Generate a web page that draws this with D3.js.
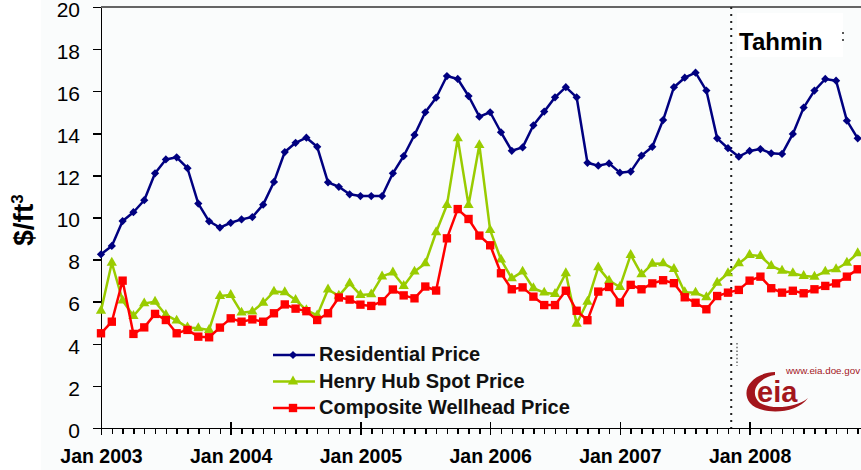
<!DOCTYPE html>
<html>
<head>
<meta charset="utf-8">
<script src="https://cdn.jsdelivr.net/npm/d3@7"></script>
<style>
  html, body { margin: 0; padding: 0; background: #fff; }
  svg { display: block; font-family: "Liberation Sans", Arial, sans-serif; }
  .axis path, .axis line { stroke: #000; stroke-width: 1.5; shape-rendering: crispEdges; }
  .axis text { fill: #000; }
</style>
</head>
<body>
<svg id="chart" width="861" height="470"></svg>
<script>
// ----------------------------
// DATA (monthly, Jan 2003 = index 0)
// ----------------------------
const residential = [
  8.25, 8.65, 9.83, 10.25, 10.82, 12.1, 12.76, 12.86, 12.34, 10.66, 9.82, 9.52,
  9.75, 9.91, 10.02, 10.61, 11.69, 13.11, 13.55, 13.79, 13.36, 11.67, 11.46, 11.1,
  11.02, 11.02, 11.02, 12.1, 12.92, 13.92, 15.0, 15.69, 16.72, 16.58, 15.77, 14.79,
  15.0, 14.05, 13.17, 13.33, 14.38, 15.03, 15.71, 16.19, 15.71, 12.6, 12.46, 12.57,
  12.13, 12.18, 12.94, 13.36, 14.63, 16.19, 16.64, 16.88, 16.03, 13.76, 13.29, 12.89,
  13.16, 13.25, 13.05, 13.02, 13.97, 15.22, 16.03, 16.58, 16.5, 14.6, 13.76
];
const henryHub = [
  5.57, 7.85, 6.05, 5.32, 5.92, 6.0, 5.37, 5.1, 4.78, 4.74, 4.66, 6.27,
  6.32, 5.48, 5.53, 5.95, 6.48, 6.45, 6.08, 5.6, 5.35, 6.58, 6.28, 6.87,
  6.32, 6.35, 7.2, 7.39, 6.75, 7.43, 7.82, 9.3, 10.59, 13.76, 10.59, 13.44,
  9.4, 8.0, 7.11, 7.43, 6.64, 6.43, 6.37, 7.35, 4.95, 6.0, 7.63, 7.0,
  6.7, 8.22, 7.3, 7.8, 7.82, 7.55, 6.45, 6.43, 6.21, 6.9, 7.35, 7.82,
  8.22, 8.17, 7.7, 7.47, 7.35, 7.22, 7.19, 7.43, 7.54, 7.85, 8.3
];
const wellhead = [
  4.5, 5.05, 7.0, 4.47, 4.78, 5.42, 5.13, 4.5, 4.66, 4.34, 4.31, 4.77,
  5.21, 5.05, 5.16, 5.05, 5.45, 5.87, 5.67, 5.55, 5.13, 5.45, 6.2, 6.1,
  5.86, 5.8, 6.02, 6.58, 6.3, 6.16, 6.72, 6.53, 9.01, 10.4, 9.93, 9.14,
  8.68, 7.35, 6.59, 6.68, 6.24, 5.84, 5.84, 6.52, 5.57, 5.12, 6.48, 6.7,
  5.96, 6.8, 6.59, 6.87, 7.02, 6.88, 6.21, 5.95, 5.64, 6.27, 6.43, 6.56,
  7.0, 7.19, 6.64, 6.43, 6.52, 6.4, 6.59, 6.75, 6.87, 7.19, 7.54
];

const seriesNames = ["Residential Price", "Henry Hub Spot Price", "Composite Wellhead Price"];
const yearLabels = ["Jan 2003", "Jan 2004", "Jan 2005", "Jan 2006", "Jan 2007", "Jan 2008"];
const yTicks = [0, 2, 4, 6, 8, 10, 12, 14, 16, 18, 20];
const forecastStart = 58.3;   // month index where the forecast ("Tahmin") begins
const forecastLabel = "Tahmin";
const monthCount = 72;        // Jan 2003 .. Dec 2008

const svg = d3.select("#chart");
const W = 861, H = 470;
const plot = { left: 101, top: 7, bottom: 428, monthPx: 10.81 };

// ----------------------------
// SCALES
// ----------------------------
const x = d3.scaleLinear()
  .domain([0, monthCount])
  .range([plot.left, plot.left + monthCount * plot.monthPx]);

const y = d3.scaleLinear()
  .domain([0, 20])
  .range([plot.bottom, plot.top]);

// faint picture tint behind the chart
svg.append("rect")
  .attr("x", 41).attr("y", 0)
  .attr("width", W - 41).attr("height", H)
  .attr("fill", "#fafcfc");

// top frame line
svg.append("line")
  .attr("x1", x(0)).attr("x2", W)
  .attr("y1", y(20)).attr("y2", y(20))
  .attr("stroke", "#333").attr("stroke-width", 1.5);

// ----------------------------
// FORECAST MARKER
// ----------------------------
svg.append("line")
  .attr("x1", x(forecastStart)).attr("x2", x(forecastStart))
  .attr("y1", y(20)).attr("y2", y(0))
  .attr("stroke", "#222")
  .attr("stroke-width", 2)
  .attr("stroke-dasharray", "2,5");

svg.append("rect")
  .attr("x", 737).attr("y", 13)
  .attr("width", 106).attr("height", 44)
  .attr("fill", "#fff");

svg.append("text")
  .attr("x", 739).attr("y", 50)
  .attr("font-size", 24)
  .attr("font-weight", "bold")
  .attr("fill", "#000")
  .text(forecastLabel);

// small dotted leftovers from the original overlay
svg.append("line")
  .attr("x1", 843).attr("x2", 843).attr("y1", 32).attr("y2", 46)
  .attr("stroke", "#222").attr("stroke-width", 1.5).attr("stroke-dasharray", "2,5");
svg.append("line")
  .attr("x1", 737).attr("x2", 737).attr("y1", 343).attr("y2", 366)
  .attr("stroke", "#444").attr("stroke-width", 1.2).attr("stroke-dasharray", "1.5,2.2");

// ----------------------------
// AXES
// ----------------------------
const yAxis = svg.append("g")
  .attr("class", "axis")
  .attr("transform", `translate(${x(0)},0)`)
  .call(d3.axisLeft(y).tickValues(yTicks).tickSize(8).tickPadding(13).tickSizeOuter(0));
yAxis.selectAll("text")
  .attr("font-size", 21)
  .attr("dy", "0.44em");

// monthly minor ticks + axis line
svg.append("g")
  .attr("class", "axis")
  .attr("transform", `translate(0,${y(0)})`)
  .call(d3.axisBottom(x).tickValues(d3.range(0, monthCount)).tickSize(6).tickSizeOuter(0).tickFormat(""));

// yearly major ticks crossing the axis
const xMajor = svg.append("g")
  .attr("class", "axis")
  .attr("transform", `translate(0,${y(0) - 6})`)
  .call(d3.axisBottom(x)
    .tickValues(yearLabels.map((d, i) => i * 12))
    .tickSize(13)
    .tickFormat((d, i) => yearLabels[i]));
xMajor.select(".domain").remove();
xMajor.selectAll("text")
  .attr("y", 41)
  .attr("dy", 0)
  .attr("font-size", 19.5)
  .attr("font-weight", "bold");

// y title
const yTitle = svg.append("text")
  .attr("transform", `translate(33,220) rotate(-90)`)
  .attr("text-anchor", "middle")
  .attr("font-size", 28)
  .attr("font-weight", "bold")
  .attr("fill", "#000");
yTitle.append("tspan").text("$/ft");
yTitle.append("tspan").attr("font-size", 17).attr("dy", -10).text("3");

// ----------------------------
// SERIES
// ----------------------------
const series = [
  { name: seriesNames[0], values: residential, color: "#000080", symbol: d3.symbolSquare, size: 34, rotate: 45 },
  { name: seriesNames[1], values: henryHub, color: "#99cc00", symbol: d3.symbolTriangle, size: 46, rotate: 0 },
  { name: seriesNames[2], values: wellhead, color: "#ff0000", symbol: d3.symbolSquare, size: 70, rotate: 0 }
];

const line = d3.line()
  .x((d, i) => x(i))
  .y(d => y(d));

// green first, red over it, navy on top
[series[1], series[2], series[0]].forEach(s => {
  const grp = svg.append("g");
  grp.append("path")
    .datum(s.values)
    .attr("fill", "none")
    .attr("stroke", s.color)
    .attr("stroke-width", 2.5)
    .attr("stroke-linejoin", "round")
    .attr("d", line);
  grp.selectAll("path.pt")
    .data(s.values)
    .join("path")
    .attr("class", "pt")
    .attr("d", d3.symbol().type(s.symbol).size(s.size))
    .attr("transform", (d, i) => `translate(${x(i)},${y(d)}) rotate(${s.rotate})`)
    .attr("fill", s.color);
});

// ----------------------------
// LEGEND
// ----------------------------
const legend = svg.append("g").attr("transform", "translate(273,355)");
series.forEach((s, i) => {
  const row = legend.append("g").attr("transform", `translate(0,${i * 26.5})`);
  row.append("line")
    .attr("x1", 0).attr("x2", 42)
    .attr("stroke", s.color).attr("stroke-width", 2.5);
  row.append("path")
    .attr("d", d3.symbol().type(s.symbol).size(s.size))
    .attr("transform", `translate(20,0) rotate(${s.rotate})`)
    .attr("fill", s.color);
  row.append("text")
    .attr("x", 46).attr("y", 6)
    .attr("font-size", 20)
    .attr("font-weight", "bold")
    .attr("fill", "#111")
    .text(s.name);
});

// ----------------------------
// EIA LOGO
// ----------------------------
const logoColor = "#a3161c";
const logo = svg.append("g");
logo.append("path")
  .attr("d", "M775,372 C752,373 740,390 750,403 C760,415 796,415 808,398 C795,409 766,410 758,401 C750,391 758,378 775,375 Z")
  .attr("fill", logoColor);
logo.append("text")
  .attr("x", 757).attr("y", 402)
  .attr("font-size", 29)
  .attr("font-weight", "bold")
  .attr("fill", logoColor)
  .text("eia");
logo.append("text")
  .attr("x", 786).attr("y", 373.5)
  .attr("font-size", 9.8)
  .attr("fill", logoColor)
  .text("www.eia.doe.gov");
</script>
</body>
</html>
